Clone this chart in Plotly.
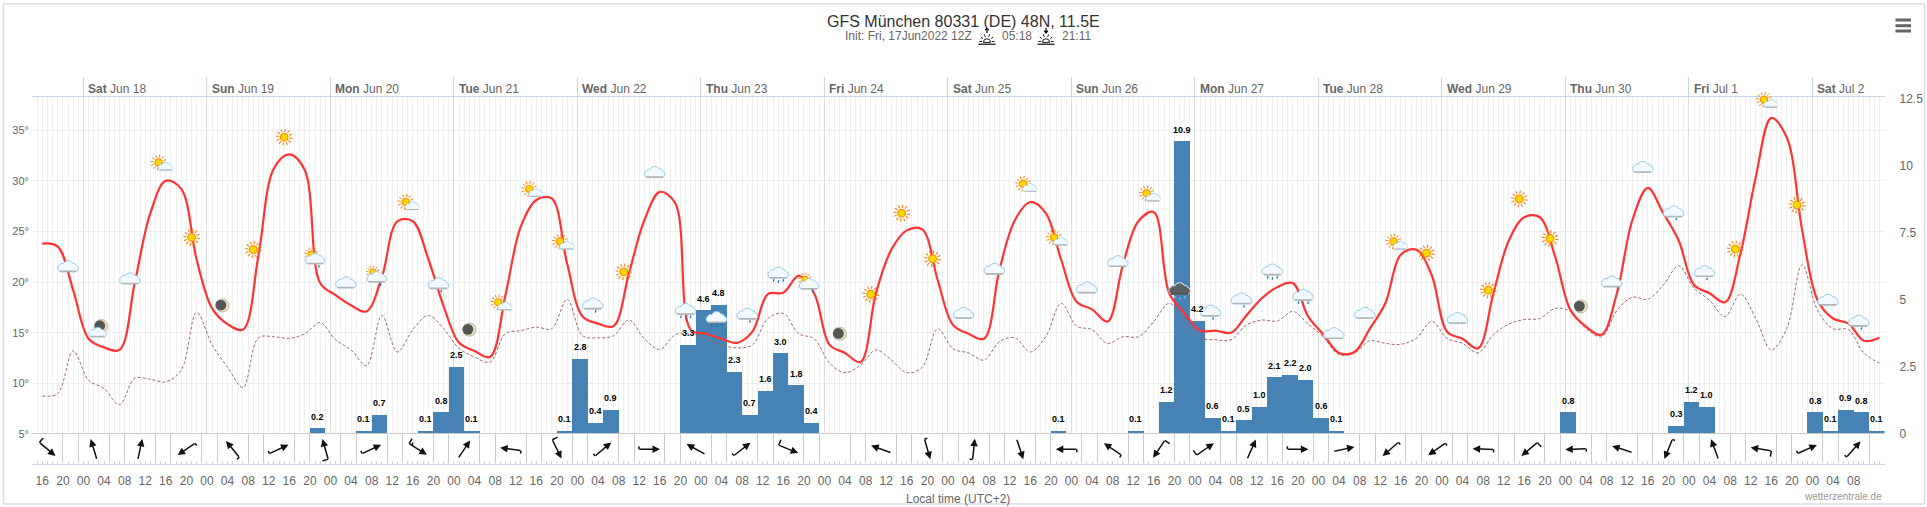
import base64
import math
import pandas as pd
import plotly.graph_objects as go

# GFS meteogram Muenchen
temp_2m = [23.8, 23.5, 19.2, 14.4, 13.55, 13.3, 20.0, 26.8, 30.0, 29.2,
           22.2, 17.4, 15.85, 15.3, 22.6, 31.2, 32.6, 31.05, 19.9, 18.7,
           17.7, 17.1, 20.5, 26.0, 26.0, 22.3, 17.6, 14.0, 13.2, 12.6,
           18.7, 25.5, 28.1, 28.25, 21.8, 16.6, 15.9, 15.65, 20.85, 26.1,
           28.9, 27.8, 15.3, 14.9, 14.4, 14.0, 15.1, 18.8, 18.95, 20.6,
           18.9, 13.8, 13.0, 12.1, 18.9, 23.2, 25.1, 25.2, 20.2, 15.75,
           14.9, 14.4, 21.2, 26.1, 27.9, 26.8, 22.2, 18.05, 17.3, 16.1,
           21.7, 26.0, 26.9, 18.9, 16.9, 15.2, 15.2, 15.0, 16.7, 18.4,
           19.5, 19.9, 16.6, 14.8, 13.0, 13.1, 15.4, 17.9, 22.7, 23.2,
           20.7, 15.1, 14.4, 13.45, 18.9, 24.1, 26.4, 26.4, 22.5, 17.2,
           15.6, 14.8, 18.9, 26.1, 29.3, 26.8, 24.1, 19.7, 18.9, 18.0,
           22.8, 30.4, 36.2, 34.3, 25.1, 18.2, 16.4, 15.9, 14.2, 14.5]
dewpoint = [8.75, 9.0, 13.2, 10.3, 9.5, 7.9, 10.5, 10.4, 10.15, 11.3,
            17.0, 13.8, 11.6, 9.6, 14.5, 14.6, 14.45, 14.9, 16.0, 14.3,
            13.3, 11.75, 16.7, 13.1, 15.3, 16.7, 15.4, 13.45, 12.6, 12.1,
            14.9, 15.2, 15.55, 15.4, 18.3, 14.7, 14.5, 14.7, 16.25, 14.4,
            13.35, 14.8, 14.9, 14.4, 13.8, 13.5, 13.8, 16.4, 16.9, 14.9,
            14.4, 12.0, 11.05, 11.8, 13.3, 12.3, 11.05, 11.6, 15.4, 13.4,
            13.0, 12.3, 14.1, 14.5, 13.1, 14.6, 17.9, 15.65, 15.3, 13.95,
            14.6, 14.6, 16.1, 17.9, 16.25, 14.5, 14.3, 14.3, 15.75, 16.25,
            16.15, 17.1, 15.85, 14.55, 12.85, 13.0, 14.2, 13.95, 13.85, 14.45,
            16.1, 14.45, 13.95, 13.0, 14.8, 15.85, 16.3, 16.4, 17.4, 17.1,
            15.4, 14.6, 17.2, 18.5, 18.3, 19.7, 21.6, 19.4, 18.2, 16.6,
            18.8, 16.4, 13.3, 15.4, 21.7, 17.2, 15.4, 15.3, 13.0, 12.0]

rain_start = ["2022-06-19 20:00", "2022-06-20 05:00", "2022-06-20 08:00", "2022-06-20 17:00",
              "2022-06-20 20:00", "2022-06-20 23:00", "2022-06-21 02:00", "2022-06-21 20:00",
              "2022-06-21 23:00", "2022-06-22 02:00", "2022-06-22 05:00", "2022-06-22 20:00",
              "2022-06-22 23:00", "2022-06-23 02:00", "2022-06-23 05:00", "2022-06-23 08:00",
              "2022-06-23 11:00", "2022-06-23 14:00", "2022-06-23 17:00", "2022-06-23 20:00",
              "2022-06-25 20:00", "2022-06-26 11:00", "2022-06-26 17:00", "2022-06-26 20:00",
              "2022-06-26 23:00", "2022-06-27 02:00", "2022-06-27 05:00", "2022-06-27 08:00",
              "2022-06-27 11:00", "2022-06-27 14:00", "2022-06-27 17:00", "2022-06-27 20:00",
              "2022-06-27 23:00", "2022-06-28 02:00", "2022-06-29 23:00", "2022-06-30 20:00",
              "2022-06-30 23:00", "2022-07-01 02:00", "2022-07-01 23:00", "2022-07-02 02:00",
              "2022-07-02 05:00", "2022-07-02 08:00", "2022-07-02 11:00"]
rain_mm = [0.2, 0.1, 0.7, 0.1, 0.8, 2.5, 0.1, 0.1, 2.8, 0.4, 0.9, 3.3, 4.6, 4.8, 2.3, 0.7,
           1.6, 3.0, 1.8, 0.4, 0.1, 0.1, 1.2, 10.9, 4.2, 0.6, 0.1, 0.5, 1.0, 2.1, 2.2, 2.0,
           0.6, 0.1, 0.8, 0.3, 1.2, 1.0, 0.8, 0.1, 0.9, 0.8, 0.1]

# where the arrow points (degrees clockwise from up) and speed class for the barb
wind_dir = [130, 343, 12, 236, 321, 65, 344, 65, 122, 34, 278, 154, 50, 90, 299, 52, 112, None,
            290, 164, 6, 162, 270, 304, 214, 55, 24, 90, 78, 229, 235, 272, 230, 268, 288,
            202, 340, 279, 66, 41]
wind_kt = [10, 0, 0, 5, 5, 5, 10, 5, 15, 0, 5, 10, 5, 5, 0, 5, 10, 0,
           0, 5, 5, 0, 5, 5, 10, 10, 0, 5, 0, 5, 5, 5, 10, 5, 0,
           5, 0, 10, 5, 5]

icon_kind = ["cloud", "mooncloud", "cloud", "suncloud", "sun", "moon", "sun", "sun", "sunrain", "cloud",
             "sunrain", "suncloud", "rain", "moon", "suncloud", "suncloud", "suncloud", "rain", "sun", "cloud",
             "heavy", "heavy", "rain", "heavy", "sunrain", "moon", "sun", "sun", "sun", "cloud",
             "cloud", "suncloud", "suncloud", "cloud", "cloud", "suncloud", "storm", "rain", "rain", "heavy",
             "heavy", "cloud", "cloud", "suncloud", "sun", "cloud", "sun", "sun", "sun", "moon",
             "cloud", "cloud", "rain", "rain", "sun", "suncloud", "sun", "cloud", "rain"]
icon_temp = [21.5, 15.3, 20.3, 31.8, 24.4, 17.7, 23.2, 34.3, 22.5, 19.9,
             20.7, 27.9, 19.7, 15.3, 18.0, 29.2, 24.0, 17.7, 21.0, 30.8,
             17.1, 16.3, 16.7, 20.7, 20.0, 14.9, 18.8, 26.8, 22.3, 16.9,
             21.25, 29.7, 24.4, 19.4, 22.0, 28.75, 19.05, 17.0, 18.2, 21.0,
             18.5, 14.9, 16.9, 24.0, 22.85, 16.4, 19.2, 28.2, 24.3, 17.6,
             20.0, 31.3, 26.8, 20.9, 23.25, 38.0, 27.6, 18.2, 16.0]

day_dates = ["2022-06-18", "2022-06-19", "2022-06-20", "2022-06-21", "2022-06-22", "2022-06-23", "2022-06-24",
             "2022-06-25", "2022-06-26", "2022-06-27", "2022-06-28", "2022-06-29", "2022-06-30", "2022-07-01",
             "2022-07-02"]
day_names = ["Sat", "Sun", "Mon", "Tue", "Wed", "Thu", "Fri", "Sat", "Sun", "Mon", "Tue", "Wed", "Thu", "Fri", "Sat"]
day_labels = ["Jun 18", "Jun 19", "Jun 20", "Jun 21", "Jun 22", "Jun 23", "Jun 24", "Jun 25", "Jun 26", "Jun 27",
              "Jun 28", "Jun 29", "Jun 30", "Jul 1", "Jul 2"]

temp_time = pd.date_range("2022-06-17 16:00", periods=len(temp_2m), freq="3h")
wind_time = pd.date_range("2022-06-17 17:00", periods=len(wind_dir), freq="9h")
icon_time = pd.date_range("2022-06-17 21:00", periods=len(icon_kind), freq="6h")
hour_ticks = pd.date_range("2022-06-17 16:00", "2022-07-02 08:00", freq="4h")
x_range = ["2022-06-17 14:00", "2022-07-02 14:00"]

W, H = 1927, 507
FONT = "Liberation Sans"
HOUR = 3600000
PLOT_L, PLOT_R, PLOT_T, PLOT_M, PLOT_B = 32, 1884.5, 97.3, 434, 464.3
PX_PER_DEG = 10.13
TEMP_TOP = 5 + (PLOT_M - PLOT_T) / PX_PER_DEG


def px(x):
    return x / W


def py(y):
    return 1 - y / H


# weather icons are small inline svgs
def rays(cx, cy, r1, r2, w):
    s = ""
    for i in range(12):
        a = math.radians(i * 30 + 8)
        s += (f'<line x1="{cx + r1 * math.cos(a):.1f}" y1="{cy + r1 * math.sin(a):.1f}" '
              f'x2="{cx + r2 * math.cos(a):.1f}" y2="{cy + r2 * math.sin(a):.1f}" '
              f'stroke="#ff7a00" stroke-width="{w}"/>')
    return s


def sun(cx, cy, k=0.85):
    return (rays(cx, cy, 10.5 * k, 16.5 * k, 2 * k) +
            f'<circle cx="{cx}" cy="{cy}" r="{7.5 * k}" fill="#ffd800" stroke="#ff9000" stroke-width="{2.4 * k}"/>')


def cloud(cx, cy, k=1.0, fill="#f3faff", edge="#8fcbea", base="#b4b4b4"):
    return (f'<g transform="translate({cx},{cy}) scale({k})">'
            f'<path d="M-13 8 a6 6 0 0 1 -1 -11 a4 4 0 0 1 6 -2 a9 9 0 0 1 16 -1 a4 4 0 0 1 5 3 a6 6 0 0 1 1 11 z" '
            f'fill="{fill}" stroke="{edge}" stroke-width="1.6"/>'
            f'<line x1="-14" y1="7.5" x2="14" y2="7.5" stroke="{base}" stroke-width="2.6"/></g>')


def drops(points, color="#1b78b8"):
    return "".join(f'<line x1="{x + 1}" y1="{y}" x2="{x}" y2="{y + 4}" stroke="{color}" stroke-width="2.2"/>'
                   for x, y in points)


def moon(cx, cy):
    return (f'<circle cx="{cx}" cy="{cy}" r="11" fill="#e9e2b8" stroke="#999" stroke-width="1"/>'
            f'<circle cx="{cx - 2.5}" cy="{cy - 0.5}" r="9" fill="#555"/>')


icon_svg = {
    "sun": sun(20, 20),
    "cloud": cloud(20, 20),
    "rain": cloud(20, 18) + drops([(24, 28)]),
    "heavy": cloud(20, 17) + drops([(12, 27), (20, 29), (28, 27)]),
    "moon": moon(20, 20),
    "mooncloud": moon(24, 14) + cloud(18, 25, 0.85),
    "suncloud": sun(16.6, 20, 0.8) + cloud(28, 27, 0.72),
    "sunrain": sun(13.5, 15.5, 0.7) + cloud(20, 24, 0.95) + drops([(26, 34)]),
    "storm": cloud(20, 16, 1.05, fill="#5c6066", edge="#c8d8e0", base="#444") + drops([(12, 27), (20, 29), (28, 27)], "#7fbbdc"),
}


def svg_uri(body):
    svg = f'<svg xmlns="http://www.w3.org/2000/svg" width="40" height="40" viewBox="0 0 40 40">{body}</svg>'
    return "data:image/svg+xml;base64," + base64.b64encode(svg.encode()).decode()


def sun_line(up):
    arrow = "M20 1 L20 11 M16 5 L20 0 L24 5" if up else "M20 0 L20 10 M16 6 L20 11 L24 6"
    s = f'<path d="{arrow}" stroke="#000" stroke-width="2.6" fill="none"/>'
    s += f'<path d="M12 32 A8 8 0 0 1 28 32 Z" fill="none" stroke="#000" stroke-width="2"/>'
    for a in (180, 215, 250, 290, 325, 360):
        r = math.radians(a)
        s += (f'<line x1="{20 + 11 * math.cos(r):.1f}" y1="{30 + 11 * math.sin(r):.1f}" '
              f'x2="{20 + 17 * math.cos(r):.1f}" y2="{30 + 17 * math.sin(r):.1f}" stroke="#000" stroke-width="2"/>')
    s += '<line x1="1" y1="36" x2="39" y2="36" stroke="#000" stroke-width="2.6"/>'
    return s


fig = go.Figure()

# bars sit on the base axis so the lines stay on top of them
fig.add_trace(go.Bar(x=rain_start, y=rain_mm, width=3 * HOUR, offset=0, marker=dict(color="#4682b4", line_width=0),
                     xaxis="x", yaxis="y", hoverinfo="skip"))
fig.add_trace(go.Scatter(x=temp_time, y=dewpoint, mode="lines", line=dict(color="#a8666e", width=1, dash="3px,2px", shape="spline", smoothing=1),
                         xaxis="x", yaxis="y2", hoverinfo="skip"))
fig.add_trace(go.Scatter(x=temp_time, y=temp_2m, mode="lines", line=dict(color="#ff3333", width=2.2, shape="spline", smoothing=1),
                         xaxis="x", yaxis="y2", hoverinfo="skip"))
# dummies so the wind pane axes exist
fig.add_trace(go.Scatter(x=wind_time, y=[0.5] * len(wind_time), mode="markers", marker_opacity=0,
                         xaxis="x2", yaxis="y3", hoverinfo="skip"))
fig.add_trace(go.Scatter(x=wind_time, y=[0.5] * len(wind_time), mode="markers", marker_opacity=0,
                         xaxis="x3", yaxis="y3", hoverinfo="skip"))

annotations = []
for start, v in zip(rain_start, rain_mm):
    annotations.append(dict(x=pd.Timestamp(start) + pd.Timedelta(minutes=90), y=v, xref="x", yref="y", text=f"<b>{v:.1f}</b>",
                            showarrow=False, yshift=12, font=dict(family=FONT, size=9, color="#000", shadow="0 0 2px #fff")))

for d, name, lab in zip(day_dates, day_names, day_labels):
    annotations.append(dict(x=d, y=py(89), xref="x", yref="paper", text=f"<b>{name}</b> {lab}", showarrow=False,
                            xanchor="left", yanchor="middle", xshift=3, font=dict(family=FONT, size=12, color="#666")))

# the blank text box trims the arrow start, keep it as small as it goes
blank = dict(xref="x3", yref="y3", text=" ", font_size=1, width=1, height=1, borderpad=0, borderwidth=0, showarrow=True,
             arrowwidth=1.5, arrowcolor="#111", standoff=0, startstandoff=0)
ARROW_LEN = 21
for t, d, kt in zip(wind_time, wind_dir, wind_kt):
    if d is None:
        continue
    a = math.radians(d)
    vx, vy = ARROW_LEN * math.sin(a), -ARROW_LEN * math.cos(a)
    annotations.append(dict(blank, x=t, y=0.5, arrowhead=2, arrowsize=1, ax=-vx, ay=-vy, xshift=vx / 2, yshift=-vy / 2))
    if kt > 0:
        ux, uy = vx / ARROW_LEN, vy / ARROW_LEN
        barbs = {5: [(0, 3.5)], 10: [(0, 6.5)], 15: [(0, 6.5), (3, 3.5)]}[kt]
        for along, blen in barbs:
            sx, sy = -vx / 2 + ux * along, -vy / 2 + uy * along
            annotations.append(dict(blank, x=t, y=0.5, arrowhead=0, ax=uy * blen, ay=-ux * blen, xshift=sx, yshift=-sy))

# paper annotations need yanchor set, "auto" pushes them inwards near the edges
annotations += [
    dict(x=px(964), y=py(21.5), xref="paper", yref="paper", text="GFS München 80331 (DE) 48N, 11.5E", showarrow=False, yanchor="middle",
         font=dict(family=FONT, size=16, color="#333")),
    dict(x=px(974), y=py(35.5), xref="paper", yref="paper", text="Init: Fri, 17Jun2022 12Z", showarrow=False, xanchor="right", yanchor="middle",
         font=dict(family=FONT, size=12, color="#666")),
    dict(x=px(1000), y=py(35.5), xref="paper", yref="paper", text="05:18", showarrow=False, xanchor="left", yanchor="middle",
         font=dict(family=FONT, size=12, color="#666")),
    dict(x=px(1059.5), y=py(35.5), xref="paper", yref="paper", text="21:11", showarrow=False, xanchor="left", yanchor="middle",
         font=dict(family=FONT, size=12, color="#666")),
    dict(x=px(958), y=py(498.5), xref="paper", yref="paper", text="Local time (UTC+2)", showarrow=False, yanchor="middle",
         font=dict(family=FONT, size=12, color="#666")),
    dict(x=px(1884), y=py(496), xref="paper", yref="paper", text="wetterzentrale.de", showarrow=False, xanchor="right", yanchor="middle",
         font=dict(family=FONT, size=10, color="#999")),
]

images = []
ICON_PX = 24
for t, k, v in zip(icon_time, icon_kind, icon_temp):
    if v > TEMP_TOP - 1:
        # this one pokes out above the plot, axis-bound images get clipped
        images.append(dict(source=svg_uri(icon_svg[k]), x=t, y=py(PLOT_M - (v - 5) * PX_PER_DEG), xref="x", yref="paper", xanchor="center",
                           yanchor="middle", sizex=ICON_PX / 5.146 * HOUR, sizey=ICON_PX / H, sizing="contain", layer="above"))
        continue
    images.append(dict(source=svg_uri(icon_svg[k]), x=t, y=v, xref="x", yref="y2", xanchor="center", yanchor="middle",
                       sizex=ICON_PX / 5.146 * HOUR, sizey=ICON_PX / PX_PER_DEG, sizing="contain", layer="above"))
for cx, up in ((987, True), (1046, False)):
    images.append(dict(source=svg_uri(sun_line(up)), x=px(cx), y=py(37), xref="paper", yref="paper", xanchor="center", yanchor="middle",
                       sizex=18 / W, sizey=18 / H, sizing="contain", layer="above"))

shapes = [dict(type="rect", xref="paper", yref="paper", x0=px(3.5), x1=px(1924.5), y0=py(504), y1=py(3.7),
               line=dict(color="#dddddd", width=1.5), layer="below")]
for y in (20, 25.7, 31):
    shapes.append(dict(type="line", xref="paper", yref="paper", x0=px(1895.5), x1=px(1911), y0=py(y), y1=py(y),
                       line=dict(color="#666666", width=3)))

# the wind pane has a gridline 3h either side of each arrow
wind_grid = []
for t in wind_time:
    wind_grid += [t - pd.Timedelta(hours=3), t + pd.Timedelta(hours=3)]

dom_x = [px(PLOT_L), px(PLOT_R)]
fig.update_layout(
    width=W, height=H, margin=dict(l=0, r=0, t=0, b=0), paper_bgcolor="white", plot_bgcolor="white",
    showlegend=False, annotations=annotations, images=images, shapes=shapes, bargap=0,
    font=dict(family=FONT, color="#666"),
    xaxis=dict(type="date", domain=dom_x, range=x_range, anchor="y", side="top", tick0="2022-06-18", dtick=24 * HOUR, automargin=False,
               ticks="outside", ticklen=19, tickcolor="#ccd6eb", showticklabels=False, showgrid=True, gridcolor="#dedede", gridwidth=1,
               showline=True, linecolor="#ccd6eb", linewidth=1, zeroline=False,
               minor=dict(tick0="2022-06-18", dtick=HOUR, showgrid=True, gridcolor="#f0f0f0", gridwidth=1, ticks="")),
    yaxis=dict(domain=[py(PLOT_M), py(PLOT_T)], range=[0, 12.55], anchor="x", side="right", tickvals=[0, 2.5, 5, 7.5, 10, 12.5], automargin=False,
               ticktext=["0", "2.5", "5", "7.5", "10", "12.5"], showgrid=False, zeroline=False, ticks="", ticklabelstandoff=14,
               tickfont=dict(family=FONT, size=12, color="#666")),
    yaxis2=dict(domain=[py(PLOT_M), py(PLOT_T)], range=[5, TEMP_TOP], anchor="x", side="left", overlaying="y", automargin=False,
                tickvals=[5, 10, 15, 20, 25, 30, 35], ticktext=["5°", "10°", "15°", "20°", "25°", "30°", "35°"],
                showgrid=True, gridcolor="#eeeeee", gridwidth=1, zeroline=False, ticks="", ticklabelstandoff=2,
                tickfont=dict(family=FONT, size=11, color="#666")),
    xaxis2=dict(type="date", domain=dom_x, range=x_range, anchor="y3", side="bottom", tickmode="array", tickvals=hour_ticks,
                ticktext=[t.strftime("%H") for t in hour_ticks], automargin=False,
                ticks="inside", ticklen=3, tickcolor="#ccd6eb", showgrid=False, zeroline=False,
                showline=True, linecolor="#ccd6eb", linewidth=1, ticklabelstandoff=5, tickangle=0,
                tickfont=dict(family=FONT, size=12, color="#666"),
                minor=dict(tick0="2022-06-17 16:00", dtick=HOUR, ticks="inside", ticklen=3, tickcolor="#ccd6eb", showgrid=False)),
    xaxis3=dict(type="date", domain=dom_x, range=x_range, anchor="y3", side="top", overlaying="x2", tickmode="array", tickvals=wind_grid, automargin=False,
                showticklabels=False, ticks="", showgrid=True, gridcolor="#cccccc", gridwidth=1, zeroline=False,
                showline=True, linecolor="#cccccc", linewidth=1),
    yaxis3=dict(domain=[py(PLOT_B), py(PLOT_M)], range=[0, 1], anchor="x2", showgrid=False, zeroline=False, showticklabels=False, ticks="", automargin=False),
)

fig.write_html("out.html", config=dict(displayModeBar=False), post_script="document.body.style.margin='0';")
